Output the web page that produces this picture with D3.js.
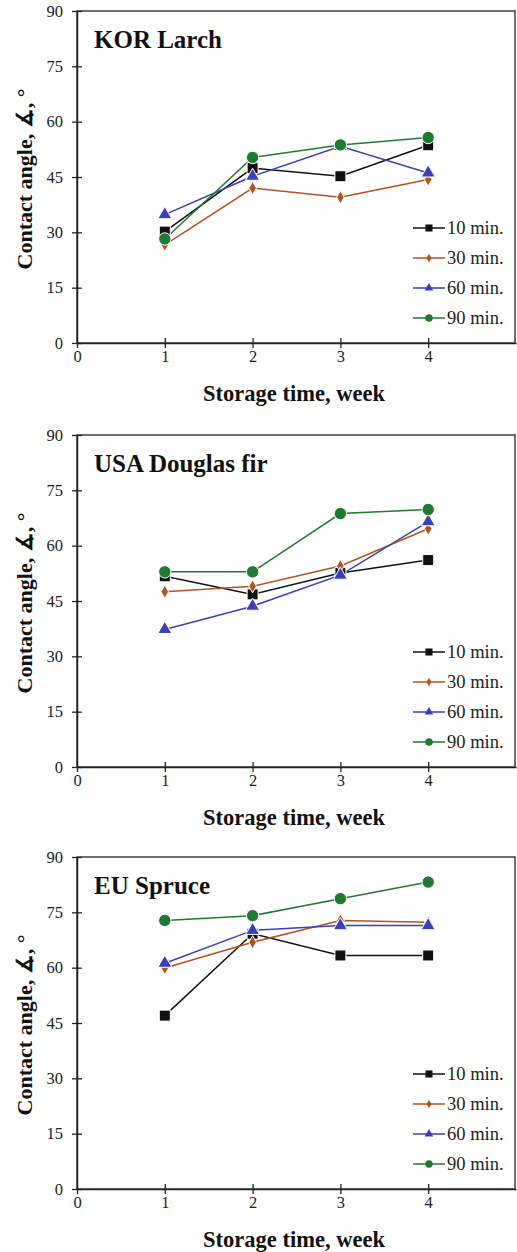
<!DOCTYPE html>
<html>
<head>
<meta charset="utf-8">
<script src="https://cdn.jsdelivr.net/npm/d3@7"></script>
<style>
  body { margin: 0; background: #fff; }
</style>
</head>
<body>
<div id="chartArea"></div>
<script>
const weeks = [1, 2, 3, 4];
const seriesNames = ["10 min.", "30 min.", "60 min.", "90 min."];
const panelTitles = ["KOR Larch", "USA Douglas fir", "EU Spruce"];
const yTicks = [0, 15, 30, 45, 60, 75, 90];
const xTicks = [0, 1, 2, 3, 4];

// values per series (10, 30, 60, 90 min.) for weeks 1..4
const larchValues = [
    [30.2, 47.4, 45.2, 53.6],
    [26.6, 42.0, 39.5, 44.3],
    [34.8, 45.2, 53.3, 46.1],
    [28.2, 50.3, 53.7, 55.7]
];
const douglasValues = [
    [51.7, 46.8, 52.6, 56.1],
    [47.5, 49.0, 54.5, 64.6],
    [37.3, 43.6, 52.0, 66.5],
    [52.9, 52.9, 68.7, 69.8]
];
const spruceValues = [
    [47.0, 69.2, 63.3, 63.3],
    [59.9, 66.9, 72.8, 72.3],
    [61.2, 70.1, 71.4, 71.4],
    [72.8, 74.1, 78.7, 83.2]
];
const panelValues = [larchValues, douglasValues, spruceValues];

const colors = ["#111111", "#b4531f", "#3b3fb8", "#1f7a30"];
const symbols = [d3.symbolSquare, d3.symbolDiamond, d3.symbolTriangle, d3.symbolCircle];
const markSizes = [121, 50, 85, 120];
const legendSizes = [50, 22, 32, 45];

const serif = "Liberation Serif";
const width = 517, height = 1252;
const left = 77, plotW = 439, plotH = 332;
const panelTops = [11, 435, 857];

const svg = d3.select("#chartArea")
    .append("svg")
    .attr("width", width)
    .attr("height", height)
    .style("font-family", serif);

const xScale = d3.scaleLinear().domain([0, 5]).range([left, left + plotW]);

panelTops.forEach((top, p) => {
    const yScale = d3.scaleLinear().domain([0, 90]).range([top + plotH, top]);
    const g = svg.append("g");

    // frame
    g.append("rect")
        .attr("x", xScale(0))
        .attr("y", yScale(90))
        .attr("width", plotW - 1)
        .attr("height", plotH)
        .attr("fill", "none")
        .attr("stroke", "#222")
        .attr("stroke-width", 1.3);

    // y axis
    const yAxis = d3.axisLeft(yScale).tickValues(yTicks).tickFormat(d3.format("d"))
        .tickSize(5).tickSizeOuter(0).tickPadding(9);
    const yg = g.append("g")
        .attr("transform", `translate(${xScale(0)},0)`)
        .call(yAxis)
        .attr("font-family", serif);
    yg.select(".domain").attr("stroke", "#222").attr("stroke-width", 1.5);
    yg.selectAll(".tick line").attr("x1", 5).attr("stroke", "#222").attr("stroke-width", 1.3);
    yg.selectAll(".tick text").style("font-size", "16.5px").style("font-family", serif).attr("fill", "#222");

    // x axis
    const xAxis = d3.axisBottom(xScale).tickValues(xTicks).tickFormat(d3.format("d"))
        .tickSize(5).tickSizeOuter(0).tickPadding(2);
    const xg = g.append("g")
        .attr("transform", `translate(0,${yScale(0)})`)
        .call(xAxis)
        .attr("font-family", serif);
    xg.select(".domain").attr("stroke", "#222").attr("stroke-width", 1.5);
    xg.selectAll(".tick line").attr("y1", d => d === 0 ? 0 : -5).attr("stroke", "#222").attr("stroke-width", 1.3);
    xg.selectAll(".tick text").style("font-size", "16.5px").style("font-family", serif).attr("fill", "#222");

    // titles
    g.append("text")
        .attr("x", 94)
        .attr("y", top + 37)
        .style("font-family", serif)
        .style("font-size", "25px")
        .style("font-weight", "700")
        .attr("fill", "#111")
        .text(panelTitles[p]);

    g.append("text")
        .attr("x", 294)
        .attr("y", top + plotH + 58)
        .attr("text-anchor", "middle")
        .style("font-family", serif)
        .style("font-size", "22.5px")
        .style("font-weight", "700")
        .attr("fill", "#111")
        .text("Storage time, week");

    g.append("text")
        .attr("transform", `translate(32,${top + plotH / 2 + 2}) rotate(-90)`)
        .attr("text-anchor", "middle")
        .style("font-family", serif)
        .style("font-size", "22px")
        .style("font-weight", "700")
        .attr("fill", "#111")
        .text("Contact angle, \u2221, \u00b0");

    const line = d3.line()
        .x((d, i) => xScale(weeks[i]))
        .y(d => yScale(d));

    panelValues[p].forEach((vals, s) => {
        g.append("path")
            .attr("d", line(vals))
            .attr("fill", "none")
            .attr("stroke", colors[s])
            .attr("stroke-width", 1.5);
    });
    panelValues[p].forEach((vals, s) => {
        g.selectAll(null)
            .data(vals)
            .enter()
            .append("path")
            .attr("d", d3.symbol().type(symbols[s]).size(markSizes[s]))
            .attr("transform", (d, i) => `translate(${xScale(weeks[i])},${yScale(d)})`)
            .attr("fill", colors[s])
            .attr("stroke", "#fff")
            .attr("stroke-width", 1);
    });

    // legend
    seriesNames.forEach((name, s) => {
        const ly = top + 217 + s * 30;
        g.append("line")
            .attr("x1", 413).attr("x2", 445)
            .attr("y1", ly).attr("y2", ly)
            .attr("stroke", colors[s])
            .attr("stroke-width", 1.5);
        g.append("path")
            .attr("d", d3.symbol().type(symbols[s]).size(legendSizes[s]))
            .attr("transform", `translate(429,${ly})`)
            .attr("fill", colors[s]);
        g.append("text")
            .attr("x", 447)
            .attr("y", ly + 5.5)
            .style("font-family", serif)
            .style("font-size", "18.5px")
            .attr("fill", "#222")
            .text(name);
    });
});
</script>
</body>
</html>
